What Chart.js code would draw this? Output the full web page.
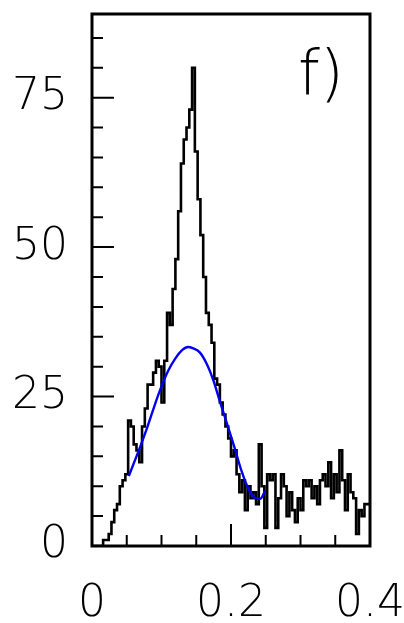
<!DOCTYPE html>
<html>
<head>
<meta charset="utf-8">
<script src="https://cdn.jsdelivr.net/npm/chart.js@4.4.0/dist/chart.umd.min.js"></script>
<style>
  html,body{margin:0;padding:0;background:#fff;}
  #wrap{width:404px;height:623px;position:relative;}
</style>
</head>
<body>
<div id="wrap"><canvas id="chart"></canvas></div>
<script>
// histogram: 100 bins of 0.004 from 0 to 0.4
const binLow = 0;
const binWidth = 0.004;
const counts = [
  0, 0, 0, 0, 0, 1, 1, 2, 4, 6,
  7, 10, 11, 12, 21, 20, 17, 16, 14, 20,
  23, 27, 27, 29, 31, 30, 24, 31, 39, 37,
  43, 48, 56, 64, 68, 70, 73, 80, 66, 58,
  52, 45, 39, 37, 34, 28, 27, 24, 22, 20,
  18, 15, 16, 12, 9, 11, 6, 10, 8, 9,
  7, 17, 10, 3, 12, 11, 12, 3, 8, 12,
  10, 5, 9, 6, 4, 8, 6, 11, 10, 11,
  8, 10, 7, 11, 12, 10, 14, 8, 12, 9,
  16, 11, 6, 12, 9, 8, 2, 6, 5, 7
];

// fit curve (blue)
const fitX = [0.053, 0.06, 0.07, 0.08, 0.09, 0.10, 0.11, 0.12, 0.13, 0.138, 0.145, 0.155, 0.165, 0.175, 0.185, 0.195, 0.205, 0.215, 0.225, 0.235, 0.242, 0.249];
const fitY = [11.7, 13.8, 16.8, 20.0, 23.5, 26.7, 29.4, 31.4, 32.8, 33.3, 33.1, 32.4, 30.5, 27.6, 23.8, 20.2, 16.5, 12.6, 9.6, 8.0, 7.9, 9.2];

// axis ticks
const xMajor = [0, 0.2, 0.4];
const xMinor = [0.05, 0.1, 0.15, 0.25, 0.3, 0.35];
const yMajor = [0, 25, 50, 75];
const yMinor = [5, 10, 15, 20, 30, 35, 40, 45, 55, 60, 65, 70, 80, 85];
const panelLabel = 'f)';

const FONT = '"DejaVu Sans", sans-serif';

const histPts = counts.map((c, i) => ({ x: binLow + i * binWidth, y: c }));
histPts.push({ x: binLow + counts.length * binWidth, y: counts[counts.length - 1] });
const fitPts = fitX.map((x, i) => ({ x, y: fitY[i] }));

// frame, inward ticks, panel label
const framePlugin = {
  id: 'frame',
  afterDatasetsDraw(chart){
    const { ctx, chartArea, scales } = chart;
    const { left, right, top, bottom } = chartArea;
    ctx.save();
    ctx.strokeStyle = '#000';
    ctx.lineWidth = 2;
    ctx.beginPath();
    xMajor.forEach(v => { const p = scales.x.getPixelForValue(v); ctx.moveTo(p, bottom); ctx.lineTo(p, bottom - 22); });
    xMinor.forEach(v => { const p = scales.x.getPixelForValue(v); ctx.moveTo(p, bottom); ctx.lineTo(p, bottom - 11); });
    yMajor.forEach(v => { const p = scales.y.getPixelForValue(v); ctx.moveTo(left, p); ctx.lineTo(left + 22, p); });
    yMinor.forEach(v => { const p = scales.y.getPixelForValue(v); ctx.moveTo(left, p); ctx.lineTo(left + 11, p); });
    ctx.stroke();
    ctx.lineWidth = 3;
    ctx.strokeRect(left, top, right - left, bottom - top);
    ctx.fillStyle = '#000';
    ctx.font = '200 62px ' + FONT;
    ctx.textAlign = 'left';
    ctx.textBaseline = 'alphabetic';
    ctx.fillText(panelLabel, left + 206, top + 80);
    ctx.restore();
  }
};

const noPad = s => { s.paddingTop = 0; s.paddingBottom = 0; s.paddingLeft = 0; s.paddingRight = 0; };

new Chart(document.getElementById('chart'), {
  type: 'line',
  data: {
    datasets: [
      { data: fitPts, borderColor: '#0000ee', borderWidth: 2.4, pointRadius: 0, cubicInterpolationMode: 'monotone', order: 0 },
      { data: histPts, borderColor: '#000', borderWidth: 2.6, pointRadius: 0, stepped: 'after', order: 1 }
    ]
  },
  options: {
    responsive: true,
    maintainAspectRatio: false,
    animation: false,
    layout: { padding: { top: 14, right: 34, left: 0, bottom: 0 } },
    plugins: { legend: { display: false }, tooltip: { enabled: false } },
    scales: {
      x: {
        type: 'linear', min: 0, max: 0.4,
        grid: { display: false, drawTicks: false },
        border: { display: false },
        ticks: {
          stepSize: 0.2, padding: 32, color: '#000',
          font: { family: FONT, size: 44, weight: '200' },
          maxRotation: 0,
          callback: v => v === 0 ? '0' : v.toFixed(1)
        },
        afterFit: s => { s.height = 77; noPad(s); }
      },
      y: {
        min: 0, max: 89,
        grid: { display: false, drawTicks: false },
        border: { display: false },
        ticks: {
          stepSize: 25, includeBounds: false, padding: 24, color: '#000',
          font: { family: FONT, size: 44, weight: '200' }
        },
        afterFit: s => { s.width = 92; noPad(s); }
      }
    }
  },
  plugins: [framePlugin]
});
</script>
</body>
</html>
